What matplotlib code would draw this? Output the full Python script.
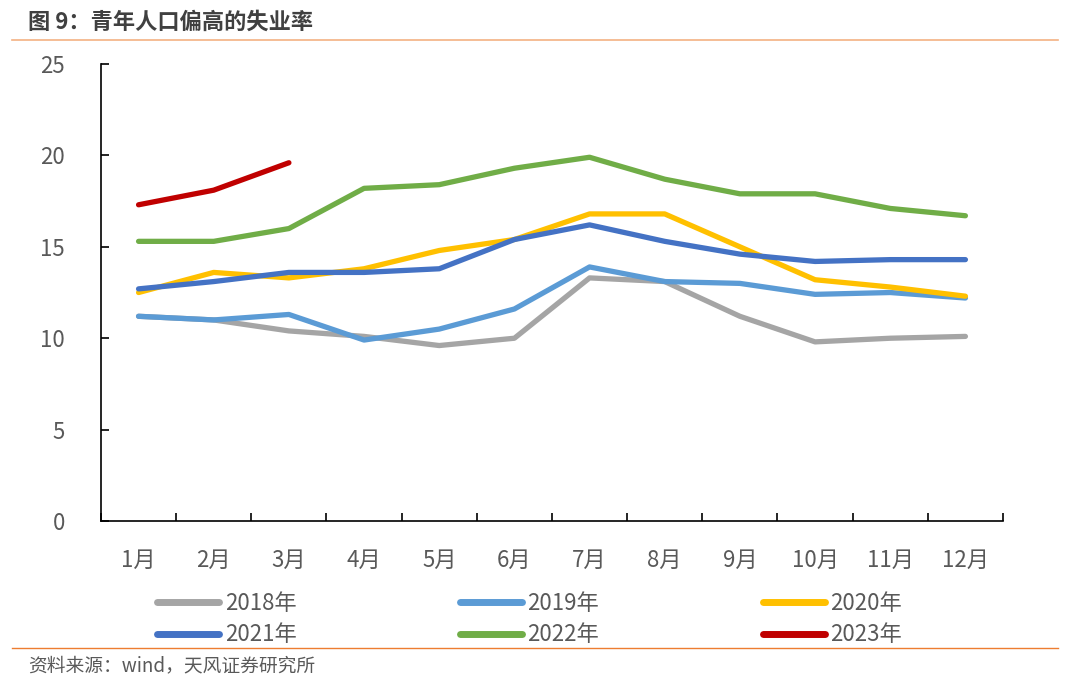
import matplotlib
matplotlib.use("Agg")
import matplotlib.pyplot as plt
from matplotlib.lines import Line2D

plt.rcParams['font.family'] = ['Noto Sans CJK SC', 'DejaVu Sans']

months = ['1月', '2月', '3月', '4月', '5月', '6月', '7月', '8月', '9月', '10月', '11月', '12月']

y2018 = [11.2, 11.0, 10.4, 10.1, 9.6, 10.0, 13.3, 13.1, 11.2, 9.8, 10.0, 10.1]
y2019 = [11.2, 11.0, 11.3, 9.9, 10.5, 11.6, 13.9, 13.1, 13.0, 12.4, 12.5, 12.2]
y2020 = [12.5, 13.6, 13.3, 13.8, 14.8, 15.4, 16.8, 16.8, 15.0, 13.2, 12.8, 12.3]
y2021 = [12.7, 13.1, 13.6, 13.6, 13.8, 15.4, 16.2, 15.3, 14.6, 14.2, 14.3, 14.3]
y2022 = [15.3, 15.3, 16.0, 18.2, 18.4, 19.3, 19.9, 18.7, 17.9, 17.9, 17.1, 16.7]
y2023 = [17.3, 18.1, 19.6]

series = [
    ('2018年', y2018, '#A5A5A5'),
    ('2019年', y2019, '#5B9BD5'),
    ('2020年', y2020, '#FFC000'),
    ('2021年', y2021, '#4472C4'),
    ('2022年', y2022, '#70AD47'),
    ('2023年', y2023, '#C00000'),
]

fig = plt.figure(figsize=(10.8, 6.96), dpi=100)
ax = fig.add_axes([0.0935, 0.2514, 0.8352, 0.6566])

for name, vals, color in series:
    ax.plot(range(len(vals)), vals, color=color, lw=3.8, solid_capstyle='round',
            solid_joinstyle='round', label=name)

ax.set_xlim(-0.5, 11.5)
ax.set_ylim(0, 25)
ax.set_yticks([0, 5, 10, 15, 20, 25])
ax.set_xticks(range(12))
ax.set_xticklabels(months)
ax.set_xticks([i - 0.5 for i in range(13)], minor=True)
ax.tick_params(axis='x', which='major', length=0, pad=20, labelsize=16, labelcolor='#595959')
ax.tick_params(axis='x', which='minor', direction='in', length=6, width=1.2, color='black')
ax.tick_params(axis='y', direction='in', length=6, width=1.2, pad=26, labelsize=16, labelcolor='#595959')

for s in ['top', 'right']:
    ax.spines[s].set_visible(False)
for s in ['left', 'bottom']:
    ax.spines[s].set_color('black')
    ax.spines[s].set_linewidth(1.2)

# legend fills column by column, so reorder to read row by row
order = [0, 3, 1, 4, 2, 5]
handles = [Line2D([], [], color=series[i][2], lw=5, solid_capstyle='round') for i in order]
labels = [series[i][0] for i in order]
fig.legend(handles, labels, loc='upper left', bbox_to_anchor=(0.135, 0.166), ncol=3,
           frameon=False, fontsize=16, handlelength=2.8, handletextpad=0.25,
           columnspacing=7.35, labelspacing=0.4, borderpad=0, labelcolor='#595959')

fig.text(0.026, 0.968, '图 9：青年人口偏高的失业率', fontsize=16, fontweight='bold',
         color='#404040', va='center', ha='left')
fig.add_artist(Line2D([0.011, 0.98], [0.942, 0.942], color='#F4B183', lw=1.2))
fig.add_artist(Line2D([0.011, 0.98], [0.069, 0.069], color='#ED7D31', lw=1.0))
fig.text(0.026, 0.044, '资料来源：wind，天风证券研究所', fontsize=13.5,
         color='#595959', va='center', ha='left')

fig.savefig('out.png', dpi=100)
